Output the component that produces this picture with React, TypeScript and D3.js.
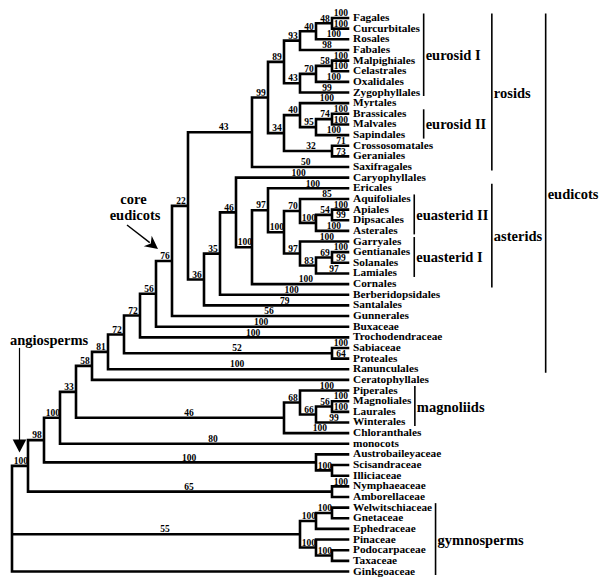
import React, { useMemo } from "react";
import * as d3 from "d3";

// ---------- DATA ----------
const leafNames = [
  "Fagales", "Curcurbitales", "Rosales", "Fabales", "Malpighiales", "Celastrales", "Oxalidales",
  "Zygophyllales", "Myrtales", "Brassicales", "Malvales", "Sapindales", "Crossosomatales",
  "Geraniales", "Saxifragales", "Caryophyllales", "Ericales", "Aquifoliales", "Apiales",
  "Dipsacales", "Asterales", "Garryales", "Gentianales", "Solanales", "Lamiales", "Cornales",
  "Berberidopsidales", "Santalales", "Gunnerales", "Buxaceae", "Trochodendraceae", "Sabiaceae",
  "Proteales", "Ranunculales", "Ceratophyllales", "Piperales", "Magnoliales", "Laurales",
  "Winterales", "Chloranthales", "monocots", "Austrobaileyaceae", "Scisandraceae", "Illiciaceae",
  "Nymphaeaceae", "Amborellaceae", "Welwitschiaceae", "Gnetaceae", "Ephedraceae", "Pinaceae",
  "Podocarpaceae", "Taxaceae", "Ginkgoaceae",
];

const leafSupport: (number | null)[] = [
  100, 100, 100, 98, 100, 100, 100,
  99, 100, 100, 100, 100, 71,
  73, 50, 100, 100, 85, 100,
  99, 100, 100, 100, 99, 97, 100,
  100, 79, 56, 100, 100, 100,
  64, 100, null, 100, 100, 100,
  99, 100, 80, null, null, null,
  100, null, null, null, null, null,
  null, null, null,
];

// internal nodes: [id, children, support]
const cladeNodes: [string, string[], number | null][] = [
  ["A", ["Fagales", "Curcurbitales"], 48],
  ["B", ["A", "Rosales"], 40],
  ["C", ["B", "Fabales"], 93],
  ["H", ["Malpighiales", "Celastrales"], 58],
  ["G", ["H", "Oxalidales"], 70],
  ["E", ["G", "Zygophyllales"], 43],
  ["D", ["C", "E"], 89],
  ["M", ["Brassicales", "Malvales"], 74],
  ["L", ["M", "Sapindales"], 95],
  ["J", ["Myrtales", "L"], 40],
  ["K", ["Crossosomatales", "Geraniales"], 32],
  ["I", ["J", "K"], 34],
  ["F", ["D", "I"], 99],
  ["rosidsSaxi", ["F", "Saxifragales"], 43],
  ["T", ["Apiales", "Dipsacales"], 54],
  ["S", ["T", "Asterales"], 100],
  ["Q", ["Aquifoliales", "S"], 70],
  ["V", ["Gentianales", "Solanales"], 69],
  ["U", ["V", "Lamiales"], 83],
  ["R", ["Garryales", "U"], 97],
  ["P", ["Q", "R"], 100],
  ["O", ["Ericales", "P"], 97],
  ["N", ["O", "Cornales"], 100],
  ["n46", ["Caryophyllales", "N"], 46],
  ["n35", ["n46", "Berberidopsidales"], 35],
  ["n36", ["n35", "Santalales"], 36],
  ["n22", ["rosidsSaxi", "n36"], 22],
  ["coreEudicots", ["n22", "Gunnerales"], 76],
  ["n56", ["coreEudicots", "Buxaceae"], 56],
  ["n72a", ["n56", "Trochodendraceae"], 72],
  ["SP", ["Sabiaceae", "Proteales"], 52],
  ["n72b", ["n72a", "SP"], 72],
  ["n81", ["n72b", "Ranunculales"], 81],
  ["n58", ["n81", "Ceratophyllales"], 58],
  ["MLa", ["Magnoliales", "Laurales"], 56],
  ["n66", ["MLa", "Winterales"], 66],
  ["n68", ["Piperales", "n66"], 68],
  ["MC", ["n68", "Chloranthales"], 46],
  ["n33", ["n58", "MC"], 33],
  ["n100", ["n33", "monocots"], 100],
  ["SI", ["Scisandraceae", "Illiciaceae"], 100],
  ["Au", ["Austrobaileyaceae", "SI"], 100],
  ["n98", ["n100", "Au"], 98],
  ["NA", ["Nymphaeaceae", "Amborellaceae"], 65],
  ["angiosperms", ["n98", "NA"], 100],
  ["WG", ["Welwitschiaceae", "Gnetaceae"], 100],
  ["Gn", ["WG", "Ephedraceae"], 100],
  ["PT", ["Podocarpaceae", "Taxaceae"], 100],
  ["Co", ["Pinaceae", "PT"], 100],
  ["Gy", ["Gn", "Co"], 55],
  ["root", ["angiosperms", "Gy", "Ginkgoaceae"], null],
];

const cladeNames = ["eurosid I", "eurosid II", "euasterid II", "euasterid I", "magnoliids", "gymnosperms", "rosids", "asterids", "eudicots"];
const cladeFirst = ["Fagales", "Brassicales", "Aquifoliales", "Garryales", "Piperales", "Welwitschiaceae", "Fagales", "Ericales", "Fagales"];
const cladeLast = ["Zygophyllales", "Sapindales", "Asterales", "Lamiales", "Winterales", "Ginkgoaceae", "Saxifragales", "Cornales", "Ranunculales"];
const cladeRank = [0, 0, 1, 1, 2, 3, 4, 4, 5];

// ---------- STYLE ----------
const W = 600, H = 584;
const FONT = "'Liberation Serif', 'Times New Roman', Times, serif";
const LEAF_FS = 11.3, SUP_FS = 9.5, CLADE_FS = 14.5;
const LEAF_LEVEL = 21;

let _ctx: CanvasRenderingContext2D | null = null;
function textWidth(t: string, size: number) {
  if (!_ctx) _ctx = document.createElement("canvas").getContext("2d");
  if (!_ctx) return t.length * size * 0.5;
  _ctx.font = `bold ${size}px ${FONT}`;
  return _ctx.measureText(t).width;
}

export default function App() {
  const layout = useMemo(() => {
    const childMap = new Map<string, string[]>();
    const supMap = new Map<string, number | null>();
    cladeNodes.forEach(([id, ch, s]) => { childMap.set(id, ch); supMap.set(id, s); });
    leafNames.forEach((n, i) => supMap.set(n, leafSupport[i]));

    const root = d3.hierarchy<{ id: string }>({ id: "root" }, (d) =>
      childMap.has(d.id) ? childMap.get(d.id)!.map((c) => ({ id: c })) : undefined
    );

    const yScale = d3.scaleLinear().domain([0, leafNames.length - 1]).range([18, 571.5]);
    const xScale = d3.scaleLinear().domain([0, LEAF_LEVEL]).range([12, 348]);

    const info = new Map<any, { level: number; y: number }>();
    root.eachAfter((n) => {
      if (!n.children) {
        info.set(n, { level: LEAF_LEVEL, y: yScale(leafNames.indexOf(n.data.id)) });
      } else {
        const lv = d3.min(n.children, (c) => info.get(c)!.level)! - 1;
        const y0 = info.get(n.children[0])!.y;
        const y1 = info.get(n.children[n.children.length - 1])!.y;
        info.set(n, { level: lv, y: (y0 + y1) / 2 });
      }
    });

    const X = (n: any) => xScale(info.get(n)!.level);
    const Y = (n: any) => info.get(n)!.y;

    let d = "";
    const supports: { x: number; y: number; t: string }[] = [];
    const byId = new Map<string, any>();
    root.each((n) => {
      byId.set(n.data.id, n);
      if (n.parent) {
        const px = X(n.parent), nx = X(n), ny = Y(n);
        d += `M${px},${ny}H${nx}`;
        const s = supMap.get(n.data.id);
        if (s != null) {
          const len = nx - px;
          supports.push({ x: (px + nx) / 2 + Math.min(9, len * 0.06), y: ny - 1.8, t: String(s) });
        }
      }
      if (n.children) {
        d += `M${X(n)},${Y(n.children[0])}V${Y(n.children[n.children.length - 1])}`;
      }
    });

    const leafX = 353;
    const leaves = leafNames.map((name, i) => ({ name, x: leafX, y: yScale(i) + 3, right: leafX + textWidth(name, LEAF_FS) }));

    // clade brackets
    const bars: { x: number; y0: number; y1: number; label: string; ly: number; right: number; i0: number; i1: number }[] = [];
    const ranks = Array.from(new Set(cladeRank));
    ranks.forEach((r) => {
      const members = cladeNames.map((_, i) => i).filter((i) => cladeRank[i] === r);
      let content = 0;
      members.forEach((i) => {
        const i0 = leafNames.indexOf(cladeFirst[i]);
        const i1 = leafNames.indexOf(cladeLast[i]);
        for (let k = i0; k <= i1; k++) content = Math.max(content, leaves[k].right);
        bars.forEach((b) => { if (b.i0 >= i0 && b.i1 <= i1) content = Math.max(content, b.right); });
      });
      const bx = content + 3.5;
      members.forEach((i) => {
        const i0 = leafNames.indexOf(cladeFirst[i]);
        const i1 = leafNames.indexOf(cladeLast[i]);
        bars.push({
          x: bx, y0: yScale(i0) - 4.5, y1: yScale(i1) + 3.5,
          label: cladeNames[i], ly: (yScale(i0) + yScale(i1)) / 2 + 5,
          right: bx + 2 + textWidth(cladeNames[i], CLADE_FS), i0, i1,
        });
      });
    });

    const angio = byId.get("angiosperms");
    const core = byId.get("coreEudicots");
    const angioPt = { px: X(angio.parent), x: X(angio), y: Y(angio) };
    const corePt = { x: X(core), y: Y(core) };

    return { d, supports, leaves, bars, angioPt, corePt };
  }, []);

  const { d, supports, leaves, bars, angioPt, corePt } = layout;

  // angiosperm arrow
  const aTipX = angioPt.px + 7.5, aTipY = angioPt.y - 13.5;
  // core eudicot arrow
  const cTip = { x: corePt.x - 14, y: corePt.y - 12 };
  const cTail = { x: corePt.x - 45, y: corePt.y - 36 };
  const dx = cTip.x - cTail.x, dy = cTip.y - cTail.y;
  const L = Math.hypot(dx, dy);
  const ux = dx / L, uy = dy / L, pxv = -uy, pyv = ux;
  const hl = 13, hw = 6.5;
  const bcx = cTip.x - ux * hl, bcy = cTip.y - uy * hl;
  const head = [
    [cTip.x, cTip.y],
    [bcx + pxv * hw, bcy + pyv * hw],
    [cTip.x - ux * hl * 0.7, cTip.y - uy * hl * 0.7],
    [bcx - pxv * hw, bcy - pyv * hw],
  ].map((p) => p.join(",")).join(" ");

  return (
    <svg width={W} height={H} style={{ position: "absolute", left: 0, top: 0, background: "#fff" }}
      fontFamily={FONT} fontWeight="bold">
      <rect width={W} height={H} fill="#fff" />
      <path d={d} fill="none" stroke="#000" strokeWidth={2.6} strokeLinecap="square" strokeLinejoin="miter" />
      {supports.map((s, i) => (
        <text key={"s" + i} x={s.x} y={s.y} fontSize={SUP_FS} textAnchor="middle" fill="#000">{s.t}</text>
      ))}
      {leaves.map((l) => (
        <text key={l.name} x={l.x} y={l.y} fontSize={LEAF_FS} fill="#000">{l.name}</text>
      ))}
      {bars.map((b) => (
        <g key={b.label}>
          <line x1={b.x} x2={b.x} y1={b.y0} y2={b.y1} stroke="#000" strokeWidth={1.6} />
          <text x={b.x + 2} y={b.ly} fontSize={CLADE_FS} fill="#000">{b.label}</text>
        </g>
      ))}
      {/* angiosperms annotation */}
      <text x={angioPt.px - 2} y={angioPt.y - 121} fontSize={CLADE_FS} fill="#000">angiosperms</text>
      <line x1={aTipX} x2={aTipX} y1={angioPt.y - 118} y2={aTipY - 10} stroke="#000" strokeWidth={1.2} />
      <polygon points={`${aTipX - 6.8},${aTipY - 13} ${aTipX + 6.8},${aTipY - 13} ${aTipX},${aTipY}`} fill="#000" />
      {/* core eudicots annotation */}
      <text x={corePt.x - 38.5} y={corePt.y - 57} fontSize={CLADE_FS} textAnchor="middle" fill="#000">core</text>
      <text x={corePt.x - 37} y={corePt.y - 41} fontSize={CLADE_FS} textAnchor="middle" fill="#000">eudicots</text>
      <line x1={cTail.x} y1={cTail.y} x2={cTip.x - ux * hl * 0.8} y2={cTip.y - uy * hl * 0.8} stroke="#000" strokeWidth={1.4} />
      <polygon points={head} fill="#000" />
    </svg>
  );
}
